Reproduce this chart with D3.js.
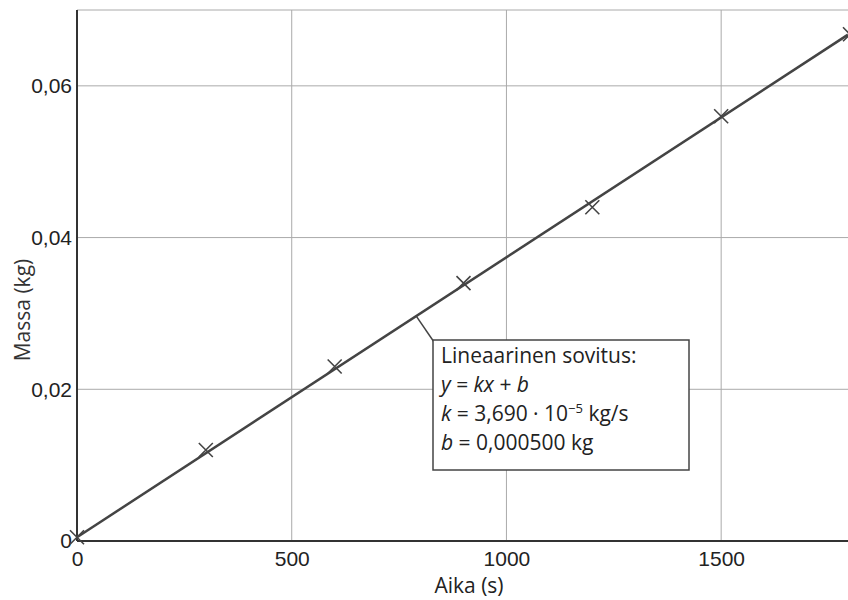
<!DOCTYPE html>
<html>
<head>
<meta charset="utf-8">
<script src="https://cdn.jsdelivr.net/npm/d3@7"></script>
<style>
  body { margin: 0; background: #fff; }
  svg { font-family: "Open Sans", sans-serif; }
  .grid line { stroke: #aaa; stroke-width: 1; }
  .tick text { fill: #222; font-size: 21px; }
</style>
</head>
<body>
<svg id="chart" width="848" height="600"></svg>
<script>
// measured points (time s, mass kg)
const times = [0, 300, 600, 900, 1200, 1500, 1800]
const masses = [0.0005, 0.012, 0.023, 0.034, 0.044, 0.056, 0.0668]

// linear fit
const fitK = 3.690e-5
const fitB = 0.000500

const xTicks = [0, 500, 1000, 1500]
const yTicks = [0, 0.02, 0.04, 0.06]
const yTickLabels = ['0', '0,02', '0,04', '0,06']

const svg = d3.select('#chart')

const x = d3.scaleLinear().domain([0, 1800]).range([77, 850])
const y = d3.scaleLinear().domain([0, 0.07]).range([541, 10])

const plot = svg.append('g')

// grid
plot.append('g').attr('class', 'grid')
    .selectAll('line')
    .data(xTicks.slice(1))
    .join('line')
    .attr('x1', d => x(d)).attr('x2', d => x(d))
    .attr('y1', y(0)).attr('y2', y(0.07))

plot.append('g').attr('class', 'grid')
    .selectAll('line')
    .data(yTicks.slice(1).concat([0.07]))
    .join('line')
    .attr('x1', x(0)).attr('x2', 848)
    .attr('y1', d => y(d)).attr('y2', d => y(d))

// axes
const xAxis = plot.append('g')
    .attr('transform', `translate(0,${y(0)})`)
    .call(d3.axisBottom(x).tickValues(xTicks).tickFormat(d3.format('d')).tickSize(0).tickPadding(6))
xAxis.select('.domain').attr('stroke', '#333').attr('stroke-width', 2)
    .attr('d', `M${x(0)},0H848`)
xAxis.selectAll('.tick text').attr('dy', '0.9em')

const yAxis = plot.append('g')
    .attr('transform', `translate(${x(0)},0)`)
    .call(d3.axisLeft(y).tickValues(yTicks).tickFormat((d, i) => yTickLabels[i]).tickSize(0).tickPadding(5))
yAxis.select('.domain').attr('stroke', '#333').attr('stroke-width', 2)
    .attr('d', `M0,${y(0)}V${y(0.07)}`)

// fit line
const xMax = x.invert(848)
plot.append('line')
    .attr('x1', x(0)).attr('y1', y(fitB))
    .attr('x2', x(xMax)).attr('y2', y(fitK * xMax + fitB))
    .attr('stroke', '#444').attr('stroke-width', 2.5)

// markers
const m = 7
plot.append('g').selectAll('path')
    .data(times.map((t, i) => [t, masses[i]]))
    .join('path')
    .attr('d', d => {
        const cx = x(d[0]), cy = y(d[1])
        return `M${cx - m},${cy - m}L${cx + m},${cy + m}M${cx - m},${cy + m}L${cx + m},${cy - m}`
    })
    .attr('stroke', '#444').attr('stroke-width', 1.6).attr('fill', 'none')

// axis titles
svg.append('text')
    .attr('x', 469).attr('y', 593)
    .attr('text-anchor', 'middle')
    .attr('font-size', 21).attr('fill', '#222')
    .text('Aika (s)')

svg.append('text')
    .attr('transform', 'translate(30,310) rotate(-90)')
    .attr('text-anchor', 'middle')
    .attr('font-size', 21).attr('fill', '#333')
    .text('Massa (kg)')

// callout
const cx0 = 790
plot.append('line')
    .attr('x1', x(cx0)).attr('y1', y(fitK * cx0 + fitB))
    .attr('x2', 434).attr('y2', 342)
    .attr('stroke', '#444').attr('stroke-width', 1.5)

const box = svg.append('g').attr('transform', 'translate(433,340)')
box.append('rect')
    .attr('width', 256).attr('height', 130)
    .attr('fill', '#fff').attr('stroke', '#444').attr('stroke-width', 1.5)

const tx = 8
const lh = 29
const fs = 21
const t1 = box.append('text').attr('x', tx).attr('y', 23).attr('font-size', fs).attr('fill', '#222')
t1.text('Lineaarinen sovitus:')

const t2 = box.append('text').attr('x', tx).attr('y', 23 + lh).attr('font-size', fs).attr('fill', '#222')
t2.append('tspan').attr('font-style', 'italic').text('y')
t2.append('tspan').text(' = ')
t2.append('tspan').attr('font-style', 'italic').text('kx')
t2.append('tspan').text(' + ')
t2.append('tspan').attr('font-style', 'italic').text('b')

const t3 = box.append('text').attr('x', tx).attr('y', 23 + 2 * lh).attr('font-size', fs).attr('fill', '#222')
t3.append('tspan').attr('font-style', 'italic').text('k')
t3.append('tspan').text(' = 3,690 · 10')
t3.append('tspan').attr('dy', -8).attr('font-size', 13).text('−5')
t3.append('tspan').attr('dy', 8).text(' kg/s')

const t4 = box.append('text').attr('x', tx).attr('y', 23 + 3 * lh).attr('font-size', fs).attr('fill', '#222')
t4.append('tspan').attr('font-style', 'italic').text('b')
t4.append('tspan').text(' = 0,000500 kg')
</script>
</body>
</html>
